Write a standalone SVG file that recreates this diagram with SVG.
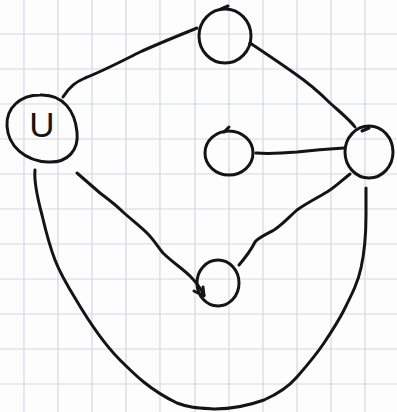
<svg xmlns="http://www.w3.org/2000/svg" width="397" height="412" viewBox="0 0 397 412">
<defs>
<style>
.grid line{stroke:#d3d8e4;stroke-width:1.2}
.ink{fill:none;stroke:#141414;stroke-width:3;stroke-linecap:round;stroke-linejoin:round}
.lbl{font-family:"Liberation Sans","DejaVu Sans",sans-serif;font-size:35px;fill:#141414}
</style>
</defs>
<rect width="397" height="412" fill="#fdfdfd"/>
<g class="grid">
<line x1="24" y1="0" x2="24" y2="412"/><line x1="58" y1="0" x2="58" y2="412"/><line x1="92" y1="0" x2="92" y2="412"/><line x1="126" y1="0" x2="126" y2="412"/><line x1="160" y1="0" x2="160" y2="412"/><line x1="195" y1="0" x2="195" y2="412"/><line x1="229" y1="0" x2="229" y2="412"/><line x1="263" y1="0" x2="263" y2="412"/><line x1="297" y1="0" x2="297" y2="412"/><line x1="331" y1="0" x2="331" y2="412"/><line x1="365" y1="0" x2="365" y2="412"/>
<line x1="0" y1="34" x2="397" y2="34"/><line x1="0" y1="69" x2="397" y2="69"/><line x1="0" y1="104" x2="397" y2="104"/><line x1="0" y1="139" x2="397" y2="139"/><line x1="0" y1="174" x2="397" y2="174"/><line x1="0" y1="209" x2="397" y2="209"/><line x1="0" y1="244" x2="397" y2="244"/><line x1="0" y1="279" x2="397" y2="279"/><line x1="0" y1="314" x2="397" y2="314"/><line x1="0" y1="349" x2="397" y2="349"/><line x1="0" y1="384" x2="397" y2="384"/>
</g>
<g id="edges" class="ink">
<path d="M63,97 C70,86 76,82 85,78 C105,70 120,62 140,52 C160,43 180,35 197,28"/>
<path d="M250,43 C265,53 280,63 294,73 C310,84 322,95 330,103 C340,112 350,120 355,127"/>
<path d="M256,153 C270,154 285,153 297,152 C315,150 328,149 344,148"/>
<path d="M350,174 C340,182 334,188 327,192 C315,199 305,204 297,210 C288,218 282,225 274,230 C265,235 258,238 255,242 C251,250 245,258 239,265"/>
<path d="M77,173 C85,180 92,186 100,193 C108,199 116,205 123,212 C132,220 140,226 147,233 C154,240 158,247 163,253 C172,262 182,268 190,276 C196,282 201,289 204,295"/>
<path d="M203,287 L204,296 L194,291"/>
<path d="M35,170 C34,180 38,200 42,215 C46,232 50,247 55,260 C60,273 67,285 75,298 C85,315 100,340 120,360 C135,375 150,390 177,403 C190,408 197,408 215,409 C235,409 250,405 264,400 C280,393 290,385 297,377 C310,362 318,352 324,343 C334,328 340,318 344,310 C353,292 358,282 361,268 C365,250 366,235 366,215 C366,200 366,192 366,188"/>
</g>
<g id="node-u">
<path class="ink" d="M40,95 C20,95 6,108 7,126 C8,146 25,161 48,162 C68,163 79,150 77,132 C75,112 64,94 40,95 Z"/>
<text class="lbl" x="42" y="137" text-anchor="middle">U</text>
</g>
<g id="node-top">
<ellipse class="ink" cx="225" cy="36" rx="26" ry="27"/>
<path class="ink" d="M221,9 L228,6"/>
</g>
<g id="node-mid">
<ellipse class="ink" cx="229" cy="153" rx="24" ry="22"/>
<path class="ink" d="M224,132 L229,127"/>
</g>
<g id="node-right">
<ellipse class="ink" cx="369" cy="152" rx="24" ry="26"/>
<path class="ink" d="M362,131 L369,128"/>
</g>
<g id="node-bottom">
<ellipse class="ink" cx="218" cy="283" rx="21" ry="23"/>
</g>
</svg>
